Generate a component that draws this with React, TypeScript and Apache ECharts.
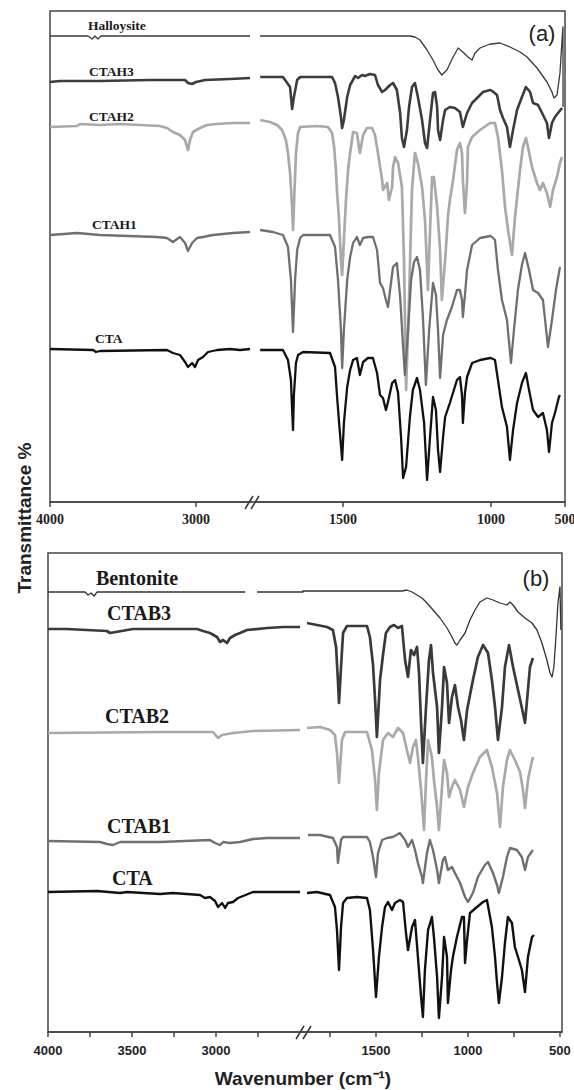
import React, { useEffect, useRef } from 'react';
import * as echarts from 'echarts';

type Pt = [number, number | string];

// ---------- names / ticks ----------
const topNames = ['Halloysite', 'CTAH3', 'CTAH2', 'CTAH1', 'CTA'];
const bottomNames = ['Bentonite', 'CTAB3', 'CTAB2', 'CTAB1', 'CTA'];
const topTickLabels = [4000, 3000, 1500, 1000, 500];
const bottomTickLabels = [4000, 3500, 3000, 1500, 1000, 500];
const bottomTicks = [4000, 3750, 3500, 3250, 3000, 2750, 1750, 1500, 1250, 1000, 750, 500];

// ---------- panel (a) spectra: [wavenumber, offset transmittance] ----------
const halloysite: Pt[] = [
  [4000, 466], [3740, 466], [3712, 463], [3692, 466], [3671, 463], [3651, 466], [2630, 466],
  [1780, 466], [1274, 466], [1257, 465], [1240, 462], [1216, 452], [1196, 442], [1179, 432], [1166, 427],
  [1149, 432], [1128, 445], [1111, 454], [1095, 450], [1078, 445], [1064, 442], [1054, 449], [1037, 454],
  [1003, 458], [1000, 458], [939, 459], [872, 455], [804, 450], [757, 445], [689, 434], [622, 420],
  [588, 410], [574, 404], [554, 407], [534, 429], [520, 462], [514, 475], [513, 395],
];
const ctah3: Pt[] = [
  [4000, 420], [3932, 421], [3658, 421], [3315, 422], [3075, 422], [3055, 419], [3027, 418], [3000, 420],
  [2938, 422], [2767, 423], [2630, 424],
  [1780, 425], [1703, 425], [1679, 415], [1672, 393], [1666, 405], [1655, 422], [1645, 425], [1537, 425],
  [1527, 419], [1517, 405], [1507, 385], [1503, 374], [1497, 382], [1486, 405], [1476, 417], [1459, 426],
  [1449, 424], [1436, 427], [1426, 426], [1409, 428], [1392, 427], [1382, 417], [1368, 410], [1358, 412],
  [1341, 417], [1331, 419], [1318, 412], [1307, 389], [1301, 364], [1294, 355], [1284, 372], [1277, 395],
  [1267, 415], [1257, 419], [1247, 405], [1233, 382], [1223, 359], [1216, 354], [1206, 382], [1196, 409],
  [1189, 410], [1182, 395], [1179, 372], [1172, 362], [1162, 382], [1155, 392], [1139, 395], [1122, 394],
  [1105, 390], [1095, 375], [1081, 389], [1064, 399], [1047, 404], [1027, 410], [1003, 412], [1000, 412],
  [959, 407], [939, 392], [919, 384], [892, 375], [872, 355], [851, 372], [824, 392], [791, 405],
  [764, 415], [736, 410], [716, 399], [682, 397], [655, 389], [622, 379], [608, 364], [588, 379],
  [568, 385], [547, 389], [520, 394],
];
const ctah2: Pt[] = [
  [4000, 375], [3815, 376], [3795, 378], [3658, 377], [3521, 378], [3247, 376], [3199, 374], [3158, 370],
  [3110, 367], [3075, 362], [3055, 352], [3041, 362], [3021, 370], [2973, 374], [2925, 377], [2856, 378],
  [2747, 379], [2630, 379],
  [1780, 382], [1747, 380], [1723, 377], [1706, 372], [1693, 362], [1686, 349], [1679, 329], [1672, 295],
  [1669, 272], [1666, 295], [1659, 349], [1652, 369], [1645, 375], [1588, 376], [1551, 375], [1537, 369],
  [1530, 355], [1524, 332], [1520, 309], [1514, 285], [1507, 242], [1503, 227], [1497, 262], [1490, 302],
  [1483, 332], [1476, 349], [1466, 370], [1453, 369], [1443, 349], [1432, 367], [1419, 374], [1402, 374],
  [1392, 367], [1382, 349], [1368, 322], [1365, 312], [1351, 319], [1345, 302], [1334, 315], [1331, 335],
  [1324, 345], [1314, 339], [1301, 315], [1294, 242], [1287, 112], [1277, 202], [1267, 312], [1257, 349],
  [1247, 339], [1233, 315], [1223, 282], [1213, 212], [1206, 272], [1199, 325], [1193, 325], [1182, 295],
  [1172, 252], [1166, 202], [1155, 242], [1145, 287], [1139, 302], [1128, 322], [1115, 352], [1105, 359],
  [1098, 349], [1095, 322], [1088, 289], [1081, 319], [1078, 355], [1064, 365], [1037, 372], [1003, 379],
  [1000, 379], [973, 379], [953, 365], [926, 332], [905, 295], [885, 272], [858, 247], [838, 285],
  [804, 332], [784, 355], [764, 364], [750, 355], [723, 335], [689, 319], [669, 312], [649, 319],
  [622, 309], [601, 295], [581, 312], [554, 325], [534, 339], [520, 345],
];
const ctah1: Pt[] = [
  [4000, 267], [3815, 269], [3658, 267], [3267, 265], [3199, 264], [3158, 260], [3110, 265], [3075, 259],
  [3055, 251], [3027, 259], [2993, 264], [2952, 265], [2884, 267], [2747, 269], [2630, 270],
  [1780, 272], [1737, 270], [1703, 267], [1686, 255], [1676, 222], [1669, 170], [1662, 222], [1655, 252],
  [1645, 264], [1635, 267], [1544, 267], [1527, 255], [1517, 222], [1507, 172], [1503, 134], [1497, 172],
  [1486, 222], [1476, 245], [1466, 259], [1453, 265], [1443, 257], [1432, 264], [1416, 265], [1399, 265],
  [1385, 252], [1375, 219], [1365, 214], [1355, 202], [1348, 195], [1341, 212], [1331, 235], [1318, 239],
  [1307, 205], [1297, 155], [1291, 127], [1280, 172], [1270, 222], [1260, 240], [1250, 245], [1240, 232],
  [1230, 185], [1220, 117], [1209, 172], [1196, 219], [1186, 207], [1179, 172], [1172, 124], [1162, 167],
  [1149, 182], [1132, 195], [1115, 212], [1105, 212], [1098, 202], [1095, 185], [1088, 207], [1081, 232],
  [1064, 257], [1037, 264], [1003, 266], [1000, 266],
  [973, 262], [953, 232], [926, 202], [892, 182], [865, 139], [845, 172], [818, 212], [791, 237],
  [770, 249], [743, 232], [716, 212], [682, 209], [649, 202], [615, 155], [588, 182], [561, 212], [534, 235],
];
const ctaA: Pt[] = [
  [4000, 153], [3705, 152], [3685, 150], [3658, 151], [3199, 152], [3158, 149], [3110, 147], [3075, 140],
  [3055, 135], [3027, 139], [3007, 135], [2986, 142], [2952, 145], [2918, 150], [2856, 152], [2767, 153],
  [2699, 152], [2630, 153],
  [1780, 152], [1703, 152], [1686, 142], [1676, 122], [1672, 92], [1669, 72], [1666, 107], [1659, 139],
  [1652, 147], [1635, 150], [1544, 149], [1527, 135], [1520, 105], [1514, 82], [1503, 42], [1497, 79],
  [1486, 115], [1476, 132], [1466, 142], [1453, 144], [1443, 127], [1432, 140], [1416, 144], [1399, 144],
  [1385, 129], [1375, 107], [1365, 104], [1355, 92], [1348, 100], [1334, 119], [1324, 122], [1314, 109],
  [1304, 65], [1297, 24], [1287, 35], [1274, 85], [1264, 112], [1250, 124], [1240, 112], [1226, 79],
  [1216, 22], [1206, 65], [1196, 105], [1186, 92], [1179, 52], [1172, 30], [1162, 65], [1155, 85],
  [1139, 99], [1115, 122], [1105, 125], [1098, 107], [1095, 79], [1088, 109], [1081, 125], [1064, 139],
  [1037, 142], [1003, 144], [1000, 144],
  [973, 142], [953, 122], [926, 95], [892, 75], [872, 42], [851, 72], [824, 99], [791, 119],
  [764, 129], [743, 112], [716, 92], [682, 85], [649, 89], [622, 72], [608, 50], [588, 79],
  [568, 89], [541, 105], [534, 107],
];

// ---------- panel (b) spectra ----------
const bentonite: Pt[] = [
  [4000, 440], [3780, 440], [3762, 437], [3744, 439], [3726, 436], [3708, 440], [2827, 440], [2790, '-'],
  [2756, 440], [2480, 440],
  [1900, 441], [1359, 441], [1332, 442], [1304, 440], [1277, 437], [1250, 434], [1223, 429], [1190, 422],
  [1152, 414], [1114, 404], [1087, 395], [1071, 389], [1060, 387], [1043, 392], [1016, 399], [989, 412],
  [962, 422], [935, 430], [897, 434], [864, 432], [826, 429], [788, 427], [772, 430], [755, 427],
  [728, 420], [690, 414], [652, 409], [625, 402], [598, 389], [571, 372], [554, 359], [543, 355],
  [533, 365], [522, 395], [511, 429], [500, 445], [495, 402],
];
const ctab3: Pt[] = [
  [4000, 403], [3890, 403], [3649, 401], [3631, 399], [3494, 403], [3113, 403], [3077, 401], [3036, 399],
  [2994, 395], [2976, 390], [2958, 392], [2935, 389], [2917, 394], [2887, 397], [2857, 399], [2816, 402],
  [2696, 404], [2601, 405], [2500, 405],
  [1875, 409], [1821, 407], [1766, 405], [1734, 402], [1717, 385], [1707, 352], [1701, 329], [1690, 365],
  [1679, 399], [1658, 406], [1549, 406], [1533, 395], [1516, 367], [1505, 332], [1495, 295], [1478, 352],
  [1462, 377], [1446, 399], [1424, 405], [1402, 407], [1380, 404], [1359, 406], [1342, 372], [1326, 355],
  [1310, 382], [1293, 377], [1277, 385], [1266, 359], [1255, 309], [1245, 269], [1228, 325], [1212, 372],
  [1201, 387], [1190, 359], [1168, 325], [1158, 279], [1141, 325], [1130, 365], [1114, 349], [1103, 309],
  [1087, 335], [1071, 347], [1054, 325], [1038, 312], [1022, 292], [1005, 322], [989, 337], [973, 352],
  [946, 375], [918, 387], [891, 379], [870, 352], [853, 325], [837, 292], [815, 325], [799, 365],
  [777, 387], [755, 365], [728, 342], [701, 319], [690, 309], [674, 342], [663, 365], [647, 374],
];
const ctab2: Pt[] = [
  [4000, 299], [3316, 300], [3095, 300], [3018, 300], [2988, 294], [2964, 297], [2899, 299], [2780, 301],
  [2500, 302],
  [1875, 304], [1804, 305], [1750, 302], [1723, 297], [1712, 279], [1701, 249], [1685, 292], [1668, 300],
  [1549, 300], [1522, 282], [1505, 252], [1495, 222], [1484, 259], [1462, 292], [1435, 299], [1408, 295],
  [1380, 304], [1353, 299], [1332, 282], [1315, 269], [1299, 285], [1283, 292], [1272, 275], [1255, 242],
  [1239, 202], [1228, 252], [1217, 292], [1196, 275], [1185, 252], [1168, 225], [1158, 202], [1141, 245],
  [1130, 272], [1114, 259], [1103, 235], [1087, 245], [1071, 252], [1043, 242], [1022, 225], [1000, 245],
  [973, 259], [935, 275], [897, 282], [870, 265], [842, 239], [826, 205], [810, 245], [788, 272],
  [772, 282], [745, 272], [717, 260], [701, 242], [690, 224], [674, 252], [663, 262], [647, 275],
];
const ctab1: Pt[] = [
  [4000, 191], [3690, 190], [3649, 188], [3613, 187], [3571, 190], [3333, 190], [3036, 192], [3006, 189],
  [2976, 187], [2958, 190], [2917, 189], [2857, 190], [2780, 193], [2696, 194], [2500, 194],
  [1870, 197], [1804, 197], [1734, 194], [1712, 185], [1707, 169], [1690, 192], [1679, 195], [1549, 195],
  [1533, 190], [1516, 175], [1500, 155], [1489, 179], [1467, 192], [1440, 194], [1408, 195], [1370, 199],
  [1342, 192], [1326, 185], [1304, 192], [1288, 182], [1272, 169], [1250, 155], [1245, 149], [1223, 179],
  [1207, 192], [1190, 182], [1168, 162], [1158, 149], [1136, 172], [1125, 175], [1109, 162], [1087, 165],
  [1071, 159], [1043, 149], [1016, 135], [1000, 130], [973, 139], [946, 155], [908, 167], [891, 170],
  [864, 159], [842, 147], [832, 139], [810, 155], [788, 175], [772, 184], [734, 182], [707, 175],
  [690, 162], [674, 175], [647, 182],
];
const ctaB: Pt[] = [
  [4000, 140], [3708, 141], [3571, 139], [3530, 140], [3333, 138], [3256, 139], [3095, 137], [3066, 134],
  [3036, 135], [3006, 131], [2988, 125], [2964, 129], [2946, 124], [2929, 129], [2899, 130], [2869, 134],
  [2839, 136], [2780, 140], [2500, 140],
  [1875, 139], [1821, 140], [1750, 137], [1723, 125], [1712, 102], [1701, 62], [1690, 105], [1679, 129],
  [1658, 134], [1603, 135], [1549, 134], [1533, 122], [1516, 82], [1500, 35], [1484, 75], [1467, 105],
  [1451, 125], [1435, 130], [1413, 122], [1397, 129], [1370, 132], [1353, 130], [1337, 99], [1326, 82],
  [1304, 105], [1288, 112], [1272, 75], [1255, 35], [1245, 15], [1234, 62], [1217, 102], [1196, 115],
  [1185, 95], [1168, 55], [1158, 14], [1141, 55], [1130, 95], [1114, 75], [1109, 29], [1092, 62],
  [1082, 75], [1060, 95], [1033, 115], [1022, 115], [1016, 69], [1005, 92], [989, 119], [951, 125],
  [918, 130], [897, 132], [870, 105], [853, 75], [842, 49], [832, 29], [815, 55], [799, 89],
  [783, 115], [761, 109], [745, 85], [728, 75], [707, 62], [690, 40], [674, 75], [652, 95], [641, 97],
];

// ---------- layout / styles ----------
const SERIF = '"Liberation Serif", "Times New Roman", serif';
const SANS = '"Liberation Sans", Arial, sans-serif';
const INK = '#444';

const segments = [
  { panel: 0, lo: 2600, hi: 4000, min: 2620, max: 4000, left: 50, top: 11, width: 201.5, height: 491 },
  { panel: 0, lo: 1000, hi: 1800, min: 1000, max: 1790, left: 257.2, top: 11, width: 233.8, height: 491 },
  { panel: 0, lo: 490, hi: 1000, min: 500, max: 1000, left: 491, top: 11, width: 74, height: 491 },
  { panel: 1, lo: 2400, hi: 4000, min: 2480, max: 4000, left: 48, top: 553, width: 255.4, height: 479 },
  { panel: 1, lo: 490, hi: 1950, min: 490, max: 1900, left: 302.4, top: 553, width: 259.4, height: 479 },
];

const spectra = [
  { panel: 0, data: halloysite, color: '#3a3a3a', width: 1.3 },
  { panel: 0, data: ctah2, color: '#a9a9a9', width: 2.7 },
  { panel: 0, data: ctah1, color: '#6f6f6f', width: 2.3 },
  { panel: 0, data: ctah3, color: '#3c3c3c', width: 2.6 },
  { panel: 0, data: ctaA, color: '#111111', width: 2.3 },
  { panel: 1, data: bentonite, color: '#333333', width: 1.3 },
  { panel: 1, data: ctab2, color: '#a9a9a9', width: 2.7 },
  { panel: 1, data: ctab1, color: '#707070', width: 2.4 },
  { panel: 1, data: ctab3, color: '#3a3a3a', width: 2.7 },
  { panel: 1, data: ctaB, color: '#111111', width: 2.4 },
];

const topLabelPos = [
  [88, 25], [89, 71], [89, 116], [92, 224], [95, 338],
];
const bottomLabelPos = [
  [96, 578], [107, 613], [105, 716], [107, 826], [112, 878],
];

function buildOption() {
  const grid = segments.map((s) => ({
    left: s.left, top: s.top, width: s.width, height: s.height,
    containLabel: false, outerBoundsMode: 'none',
  }));
  const xAxis = segments.map((s, i) => {
    const inRange = (v: number) => v >= s.min && v <= s.max;
    const tickVals = (s.panel === 0 ? topTickLabels : bottomTicks).filter(inRange)
      .filter((v) => !(i === 2 && v === 1000));
    const labelVals = (s.panel === 0 ? topTickLabels : bottomTickLabels).filter(inRange)
      .filter((v) => !(i === 2 && v === 1000));
    return {
      type: 'value', gridIndex: i, min: s.min, max: s.max, inverse: true,
      axisLine: { show: true, lineStyle: { color: INK, width: 1.5 } },
      axisTick: { show: true, inside: false, length: 5, customValues: tickVals, lineStyle: { color: INK, width: 1.5 } },
      axisLabel: {
        show: true, customValues: labelVals, showMinLabel: true, showMaxLabel: true,
        formatter: (v: number) => String(Math.round(v)),
        margin: s.panel === 0 ? 10 : 12,
        color: '#222', fontWeight: 'bold',
        fontFamily: s.panel === 0 ? SERIF : SANS,
        fontSize: s.panel === 0 ? 14 : 13,
      },
      splitLine: { show: false },
    };
  });
  const yAxis = segments.map((s, i) => ({
    type: 'value', gridIndex: i, min: 0, max: s.height, show: false,
  }));
  const series: any[] = [];
  spectra.forEach((sp) => {
    segments.forEach((s, i) => {
      if (s.panel !== sp.panel) return;
      const part = sp.data.filter((p) => p[0] >= s.lo && p[0] <= s.hi);
      if (part.length < 2) return;
      series.push({
        type: 'line', xAxisIndex: i, yAxisIndex: i, data: part,
        showSymbol: false, symbol: 'none', silent: true, connectNulls: false,
        lineStyle: { color: sp.color, width: sp.width, join: 'round' },
        clip: false,
      });
    });
  });

  const graphic: any[] = [
    { type: 'rect', silent: true, shape: { x: 50, y: 11, width: 515, height: 491 }, style: { fill: 'none', stroke: INK, lineWidth: 1.5 } },
    { type: 'rect', silent: true, shape: { x: 48, y: 553, width: 514, height: 479 }, style: { fill: 'none', stroke: INK, lineWidth: 1.5 } },
    { type: 'line', silent: true, shape: { x1: 245, y1: 509, x2: 253, y2: 496 }, style: { stroke: '#333', lineWidth: 1.5 } },
    { type: 'line', silent: true, shape: { x1: 251, y1: 509, x2: 259, y2: 496 }, style: { stroke: '#333', lineWidth: 1.5 } },
    { type: 'line', silent: true, shape: { x1: 296, y1: 1039, x2: 304, y2: 1026 }, style: { stroke: '#333', lineWidth: 1.5 } },
    { type: 'line', silent: true, shape: { x1: 303, y1: 1039, x2: 311, y2: 1026 }, style: { stroke: '#333', lineWidth: 1.5 } },
  ];
  topNames.forEach((n, i) => {
    graphic.push({
      type: 'text', silent: true, x: topLabelPos[i][0], y: topLabelPos[i][1],
      style: { text: n, fontSize: 13.5, fontWeight: 'bold', fontFamily: SERIF, fill: '#1a1a1a', textAlign: 'left', textVerticalAlign: 'middle', align: 'left', verticalAlign: 'middle' },
    });
  });
  bottomNames.forEach((n, i) => {
    graphic.push({
      type: 'text', silent: true, x: bottomLabelPos[i][0], y: bottomLabelPos[i][1],
      style: { text: n, fontSize: 20, fontWeight: 'bold', fontFamily: SERIF, fill: '#1a1a1a', textAlign: 'left', textVerticalAlign: 'middle', align: 'left', verticalAlign: 'middle' },
    });
  });
  graphic.push(
    { type: 'text', silent: true, x: 542, y: 33, style: { text: '(a)', fontSize: 22, fontFamily: SANS, fill: '#222', textAlign: 'center', textVerticalAlign: 'middle', align: 'center', verticalAlign: 'middle' } },
    { type: 'text', silent: true, x: 536, y: 578, style: { text: '(b)', fontSize: 22, fontFamily: SANS, fill: '#222', textAlign: 'center', textVerticalAlign: 'middle', align: 'center', verticalAlign: 'middle' } },
    { type: 'text', silent: true, x: 24, y: 518, rotation: Math.PI / 2, style: { text: 'Transmittance %', fontSize: 19, fontWeight: 'bold', fontFamily: SANS, fill: '#222', textAlign: 'center', textVerticalAlign: 'middle', align: 'center', verticalAlign: 'middle' } },
    { type: 'text', silent: true, x: 303, y: 1078, style: { text: 'Wavenumber (cm⁻¹)', fontSize: 19, fontWeight: 'bold', fontFamily: SANS, fill: '#222', textAlign: 'center', textVerticalAlign: 'middle', align: 'center', verticalAlign: 'middle' } },
  );

  return {
    animation: false,
    backgroundColor: '#ffffff',
    grid, xAxis, yAxis, series, graphic,
  };
}

export default function App() {
  const ref = useRef<HTMLDivElement>(null);
  useEffect(() => {
    document.body.style.margin = '0';
    const chart = echarts.init(ref.current as HTMLDivElement, null, { renderer: 'svg' });
    chart.setOption(buildOption() as any);
    return () => chart.dispose();
  }, []);
  return <div ref={ref} style={{ width: 574, height: 1090 }} />;
}
